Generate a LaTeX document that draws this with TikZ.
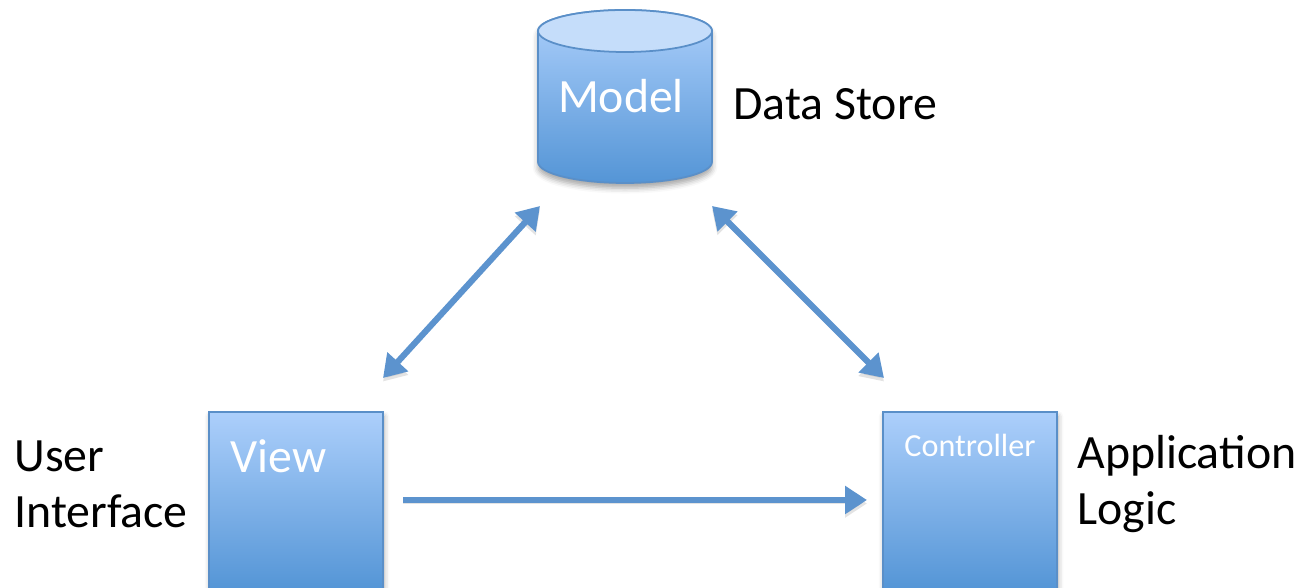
\documentclass[tikz,border=0pt]{standalone}
\usepackage{fontspec}
\setmainfont{Carlito}
\usepackage{tikz}
\usepackage{tkz-euclide}
\usetikzlibrary{arrows.meta,positioning,shadows.blur}
\pgfdeclarelayer{bg}
\pgfdeclarelayer{fg}
\pgfsetlayers{bg,main,fg}

\definecolor{mvcline}{RGB}{92,147,206}
\definecolor{mvcedge}{RGB}{90,143,200}
\definecolor{mvctop}{RGB}{172,207,251}
\definecolor{mvcbottom}{RGB}{84,149,214}
\definecolor{mvccap}{RGB}{197,221,250}

\tikzset{
    part/.style={draw=mvcedge, line width=1pt, top color=mvctop, bottom color=mvcbottom,
        minimum width=3.48cm, minimum height=3.56cm, outer sep=0pt,
        blur shadow={shadow xshift=0.6pt, shadow yshift=-2.5pt, shadow opacity=35, shadow blur radius=3pt}},
    partname/.style={text=white, inner sep=0pt},
    role/.style={text=black, inner sep=0pt, align=left, font=\fontsize{27.2}{31.9}\selectfont},
    link/.style={mvcline, line width=3.5pt, >={Triangle[length=0.44cm,width=0.54cm]},
        preaction={draw=black!60, opacity=0.18, transform canvas={yshift=-2pt}}}
}

\begin{document}
\begin{tikzpicture}
                        \useasboundingbox (0,0) rectangle (26.04,11.76);

                        \tkzDefPoint(7.66,4.20){A}
                        \tkzDefPoint(10.80,7.64){B}
                        \tkzDefPoint(14.24,7.64){C}
                        \tkzDefPoint(17.68,4.20){D}
                        \tkzDefPoint(8.06,1.76){E}
                        \tkzDefPoint(17.34,1.76){F}

                        \node[partname, minimum width=3.48cm, minimum height=3.46cm, outer sep=0pt,
                            font=\fontsize{27.2}{31.9}\selectfont] (model) at (12.50,9.83) {\hspace*{-0.16cm}Model};
                        \node[part] (view) at (5.92,1.74) {};
                        \node[part] (controller) at (19.40,1.74) {};

                        \begin{pgfonlayer}{bg}
                            \shade[draw=mvcedge, line width=1pt, top color=mvctop, bottom color=mvcbottom,
                                blur shadow={shadow xshift=0pt, shadow yshift=-3pt, shadow opacity=35, shadow blur radius=3pt}]
                                ([yshift=-0.42cm]model.north west) -- ([yshift=0.42cm]model.south west)
                                arc[start angle=180, end angle=360, x radius=1.74cm, y radius=0.42cm]
                                -- ([yshift=-0.42cm]model.north east)
                                arc[start angle=0, end angle=180, x radius=1.74cm, y radius=0.42cm] -- cycle;
                            \filldraw[draw=mvcedge, line width=1pt, fill=mvccap]
                                ([yshift=-0.42cm]model.north) ellipse[x radius=1.74cm, y radius=0.42cm];
                        \end{pgfonlayer}

                        \node[partname, anchor=west, font=\fontsize{27.2}{31.9}\selectfont]
                            (viewname) at ([xshift=0.42cm, yshift=-0.88cm]view.north west) {View};
                        \node[partname, font=\fontsize{18.3}{22}\selectfont]
                            (controllername) at ([yshift=-0.66cm]controller.north) {Controller};

                        \node[role, anchor=west] (store) at (14.66,9.68) {Data Store};
                        \node[role, anchor=west] (ui) at (0.28,2.08) {User\\Interface};
                        \node[role, anchor=west] (logic) at (21.54,2.08) {Application\\Logic};

                        \draw[link, arrows=<->] (A) -- (B);
                        \draw[link, arrows=<->] (C) -- (D);
                        \draw[link, arrows=->] (E) -- (F);
                    \end{tikzpicture}
\end{document}
